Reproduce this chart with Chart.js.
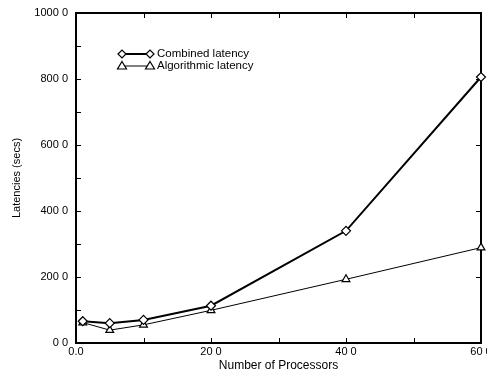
<!DOCTYPE html>
<html>
<head>
<meta charset="utf-8">
<script src="https://cdn.jsdelivr.net/npm/chart.js@4"></script>
<style>
html,body{margin:0;padding:0;background:#fff;}
#wrap{width:487px;height:373px;position:relative;}
</style>
</head>
<body>
<div id="wrap"><canvas id="c" width="487" height="373"></canvas></div>
<script>
const processors = [1, 5, 10, 20, 40, 60];
const combinedLatency = [66, 60, 70, 113, 340, 806];
const algorithmicLatency = [62, 39, 55, 99, 193, 289];
const seriesNames = ['Combined latency', 'Algorithmic latency'];
const yTickValues = [0, 200, 400, 600, 800, 1000];
const yTickLabels = ['0 0', '200 0', '400 0', '600 0', '800 0', '1000 0'];
const xTickValues = [0, 20, 40, 60];
const xTickLabels = ['0.0', '20 0', '40 0', '60 0'];
const xTitle = 'Number of Processors';
const yTitle = 'Latencies (secs)';

const FONT = '"Liberation Sans", Arial, Helvetica, sans-serif';

const toPoints = (xs, ys) => xs.map((x, i) => ({x: x, y: ys[i]}));

const frame = {
  id: 'frame',
  beforeDatasetsDraw(chart) {
    const ctx = chart.ctx, a = chart.chartArea;
    const xs = chart.scales.x, ys = chart.scales.y;
    ctx.save();
    ctx.strokeStyle = '#000';
    ctx.lineWidth = 1;
    const L = 5;
    ctx.beginPath();
    for (let v = 100; v < 1000; v += 100) {
      const p = Math.round(ys.getPixelForValue(v)) + 0.5;
      ctx.moveTo(a.left, p); ctx.lineTo(a.left + L, p);
      if (v % 200 === 0) { ctx.moveTo(a.right, p); ctx.lineTo(a.right - L, p); }
    }
    for (let v = 10; v < 60; v += 10) {
      const p = Math.round(xs.getPixelForValue(v)) + 0.5;
      ctx.moveTo(p, a.bottom); ctx.lineTo(p, a.bottom - L);
      ctx.moveTo(p, a.top); ctx.lineTo(p, a.top + L);
    }
    ctx.stroke();
    ctx.lineWidth = 2;
    ctx.strokeRect(a.left, a.top, a.right - a.left, a.bottom - a.top);
    ctx.restore();
  }
};

const legendBox = {
  id: 'legendBox',
  afterDraw(chart) {
    const ctx = chart.ctx;
    const items = chart.data.datasets;
    ctx.save();
    items.forEach((ds, i) => {
      const y = 54 + i * 12;
      const x1 = 122, x2 = 150;
      ctx.strokeStyle = '#000';
      ctx.lineWidth = ds.borderWidth;
      ctx.beginPath(); ctx.moveTo(x1, y); ctx.lineTo(x2, y); ctx.stroke();
      ctx.lineWidth = 1.2;
      [x1, x2].forEach(x => {
        ctx.beginPath();
        if (ds.pointStyle === 'rectRot') {
          ctx.moveTo(x - 4, y); ctx.lineTo(x, y - 4); ctx.lineTo(x + 4, y); ctx.lineTo(x, y + 4); ctx.closePath();
        } else {
          ctx.moveTo(x, y - 4.5); ctx.lineTo(x + 4.5, y + 3); ctx.lineTo(x - 4.5, y + 3); ctx.closePath();
        }
        ctx.fillStyle = '#fff'; ctx.fill(); ctx.stroke();
      });
      ctx.fillStyle = '#000';
      ctx.font = '11.5px ' + FONT;
      ctx.textBaseline = 'middle';
      ctx.textAlign = 'left';
      ctx.fillText(ds.label, 157, y);
    });
    ctx.restore();
  }
};

new Chart(document.getElementById('c'), {
  type: 'line',
  data: {
    datasets: [
      {
        label: seriesNames[0],
        data: toPoints(processors, combinedLatency),
        borderColor: '#000', borderWidth: 2,
        pointStyle: 'rectRot', pointRadius: 4.5, pointBorderWidth: 1.2,
        pointBackgroundColor: '#fff', pointBorderColor: '#000',
        tension: 0, clip: false
      },
      {
        label: seriesNames[1],
        data: toPoints(processors, algorithmicLatency),
        borderColor: '#000', borderWidth: 1,
        pointStyle: 'triangle', pointRadius: 4.5, pointBorderWidth: 1.2,
        pointBackgroundColor: '#fff', pointBorderColor: '#000',
        tension: 0, clip: false
      }
    ]
  },
  options: {
    responsive: false,
    animation: false,
    devicePixelRatio: 1,
    layout: {padding: {top: 13, right: 6, left: 10, bottom: 0}},
    plugins: {legend: {display: false}, tooltip: {enabled: false}},
    scales: {
      x: {
        type: 'linear', min: 0, max: 60,
        afterBuildTicks: s => { s.ticks = xTickValues.map(v => ({value: v})); },
        afterFit: s => { s.height = 30; s.paddingLeft = 0; s.paddingRight = 0; },
        grid: {display: false, drawTicks: false},
        border: {display: false},
        ticks: {
          color: '#000', font: {family: FONT, size: 11}, padding: 2, maxRotation: 0,
          autoSkip: false,
          callback: v => { const i = xTickValues.indexOf(v); return i >= 0 ? xTickLabels[i] : ''; }
        },
        title: {display: true, text: xTitle, color: '#000', font: {family: FONT, size: 12}, padding: {top: 0, bottom: 0}}
      },
      y: {
        type: 'linear', min: 0, max: 1000,
        afterBuildTicks: s => { s.ticks = yTickValues.map(v => ({value: v})); },
        afterFit: s => { s.width = 66; s.paddingTop = 0; s.paddingBottom = 0; },
        grid: {display: false, drawTicks: false},
        border: {display: false},
        ticks: {
          color: '#000', font: {family: FONT, size: 11}, padding: 8,
          autoSkip: false,
          callback: v => { const i = yTickValues.indexOf(v); return i >= 0 ? yTickLabels[i] : ''; }
        },
        title: {display: true, text: yTitle, color: '#000', font: {family: FONT, size: 11}, padding: {top: 0, bottom: 8}}
      }
    }
  },
  plugins: [frame, legendBox]
});
</script>
</body>
</html>
